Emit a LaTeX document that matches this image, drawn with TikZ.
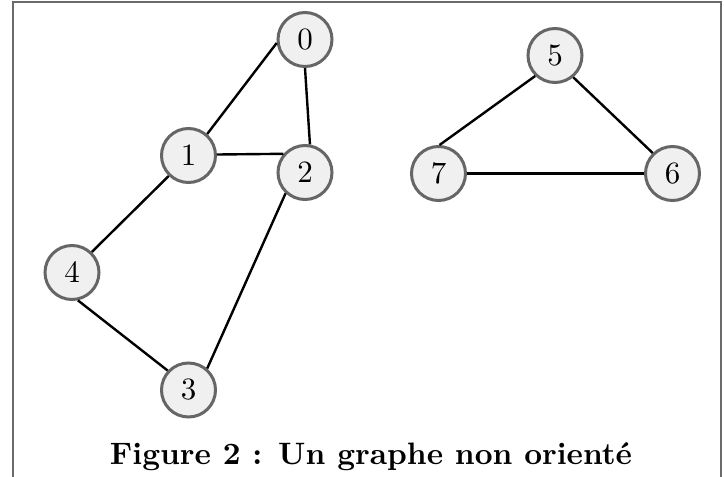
\documentclass[tikz,border=0pt]{standalone}
\usepackage{fontspec}
\setmainfont{lmroman10-regular.otf}[BoldFont=lmroman10-bold.otf]
\definecolor{rimgray}{HTML}{666666}
\definecolor{vertexfill}{HTML}{F0F0F0}
\definecolor{framegray}{HTML}{6A6A6A}
\tikzset{
  vertex/.style={circle, draw=rimgray, fill=vertexfill, line width=3pt,
    minimum size=54pt, inner sep=0pt, font=\fontsize{31}{37}\selectfont},
  edge/.style={draw=black, line width=2.4pt},
  caption/.style={font=\fontsize{31}{37}\selectfont\bfseries, anchor=base, inner sep=0pt}
}
\begin{document}
\begin{tikzpicture}[x=1pt, y=-1pt]
  \useasboundingbox (0,0) rectangle (724,477);
  % open frame around the figure
  \draw[framegray, line width=2pt] (12.7,477) -- (12.7,1.5) -- (720.5,1.5) -- (720.5,477);

  % vertices
  \node[vertex] (v0) at (305,39.5) {0};
  \node[vertex] (v1) at (188.5,155.5) {1};
  \node[vertex] (v2) at (305,172.5) {2};
  \node[vertex] (v3) at (188.5,390) {3};
  \node[vertex] (v4) at (72,272.5) {4};
  \node[vertex] (v5) at (555,55.5) {5};
  \node[vertex] (v6) at (672.5,173.5) {6};
  \node[vertex] (v7) at (438.5,173.5) {7};

  % edges of the first component
  \draw[edge] (v1.49) -- (v0.187);
  \draw[edge] (v1.2) -- (v2.139);
  \draw[edge] (v0.270) -- (v2.80);
  \draw[edge] (v1.226) -- (v4.46);
  \draw[edge] (v4.282) -- (v3.137);
  \draw[edge] (v2.227) -- (v3.49);
  % edges of the second component
  \draw[edge] (v5.226) -- (v7.88);
  \draw[edge] (v5.310) -- (v6.134);
  \draw[edge] (v7.0) -- (v6.180);

  \node[caption] (cap) at (371,464) {Figure 2 : Un graphe non orienté};
\end{tikzpicture}
\end{document}
